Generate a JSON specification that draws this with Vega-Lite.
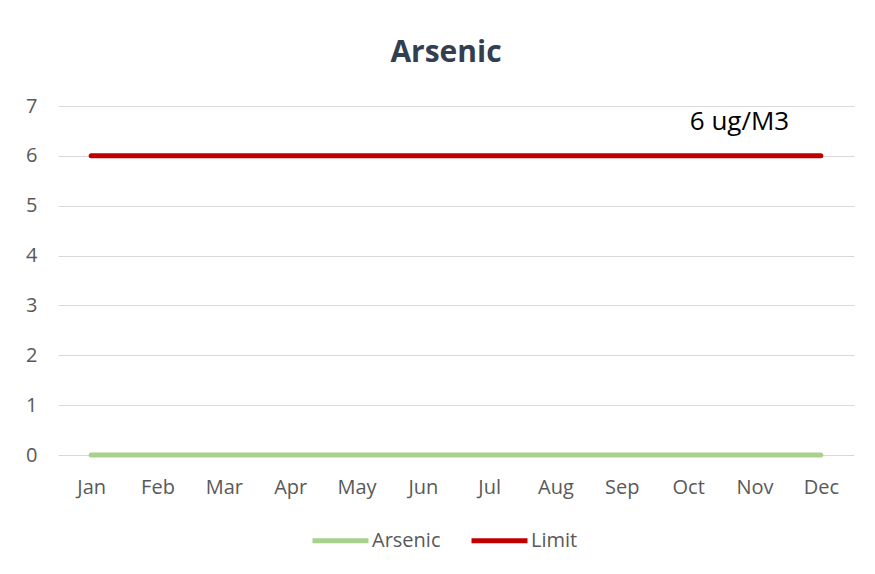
{
  "$schema": "https://vega.github.io/schema/vega-lite/v6.json",
  "width": 796,
  "height": 349,
  "autosize": "none",
  "padding": {"left": 58, "top": 106, "right": 21, "bottom": 119},
  "background": "white",
  "title": {
    "text": "Arsenic",
    "fontSize": 30,
    "fontWeight": "bold",
    "font": "Open Sans",
    "color": "#333F50",
    "anchor": "middle",
    "offset": 28,
    "dx": -10
  },
  "config": {
    "view": {"stroke": null},
    "font": "Open Sans"
  },
  "data": {
    "values": [
      {"month": "Jan", "series": "Arsenic", "value": 0},
      {"month": "Feb", "series": "Arsenic", "value": 0},
      {"month": "Mar", "series": "Arsenic", "value": 0},
      {"month": "Apr", "series": "Arsenic", "value": 0},
      {"month": "May", "series": "Arsenic", "value": 0},
      {"month": "Jun", "series": "Arsenic", "value": 0},
      {"month": "Jul", "series": "Arsenic", "value": 0},
      {"month": "Aug", "series": "Arsenic", "value": 0},
      {"month": "Sep", "series": "Arsenic", "value": 0},
      {"month": "Oct", "series": "Arsenic", "value": 0},
      {"month": "Nov", "series": "Arsenic", "value": 0},
      {"month": "Dec", "series": "Arsenic", "value": 0},
      {"month": "Jan", "series": "Limit", "value": 6},
      {"month": "Feb", "series": "Limit", "value": 6},
      {"month": "Mar", "series": "Limit", "value": 6},
      {"month": "Apr", "series": "Limit", "value": 6},
      {"month": "May", "series": "Limit", "value": 6},
      {"month": "Jun", "series": "Limit", "value": 6},
      {"month": "Jul", "series": "Limit", "value": 6},
      {"month": "Aug", "series": "Limit", "value": 6},
      {"month": "Sep", "series": "Limit", "value": 6},
      {"month": "Oct", "series": "Limit", "value": 6},
      {"month": "Nov", "series": "Limit", "value": 6},
      {"month": "Dec", "series": "Limit", "value": 6}
    ]
  },
  "layer": [
    {
      "mark": {"type": "line", "strokeWidth": 5, "strokeCap": "round"},
      "encoding": {
        "x": {
          "field": "month",
          "type": "ordinal",
          "sort": ["Jan","Feb","Mar","Apr","May","Jun","Jul","Aug","Sep","Oct","Nov","Dec"],
          "scale": {"type": "point", "padding": 0.5},
          "axis": {
            "title": null,
            "domain": false,
            "ticks": false,
            "grid": false,
            "labelAngle": 0,
            "labelFontSize": 20,
            "labelColor": "#595959",
            "labelPadding": 22
          }
        },
        "y": {
          "field": "value",
          "type": "quantitative",
          "scale": {"domain": [0, 7]},
          "axis": {
            "title": null,
            "values": [0,1,2,3,4,5,6,7],
            "domain": false,
            "ticks": false,
            "grid": true,
            "gridColor": "#D9D9D9",
            "gridWidth": 1,
            "labelFontSize": 20,
            "labelColor": "#595959",
            "labelPadding": 21
          }
        },
        "color": {
          "field": "series",
          "type": "nominal",
          "scale": {"domain": ["Arsenic", "Limit"], "range": ["#A9D18E", "#C00000"]},
          "legend": {
            "title": null,
            "orient": "none",
            "direction": "horizontal",
            "legendX": 252,
            "legendY": 404,
            "symbolType": "stroke",
            "symbolSize": 3136,
            "symbolStrokeWidth": 5,
            "labelFontSize": 20,
            "labelColor": "#595959",
            "labelOffset": 1,
            "columnPadding": 20
          }
        }
      }
    },
    {
      "data": {"values": [{"month": "Nov", "value": 6.68, "label": "6 ug/M3"}]},
      "mark": {"type": "text", "fontSize": 26, "color": "black", "dx": -15, "baseline": "middle", "align": "center"},
      "encoding": {
        "x": {"field": "month", "type": "ordinal", "sort": ["Jan","Feb","Mar","Apr","May","Jun","Jul","Aug","Sep","Oct","Nov","Dec"]},
        "y": {"field": "value", "type": "quantitative"},
        "text": {"field": "label"}
      }
    }
  ]
}
